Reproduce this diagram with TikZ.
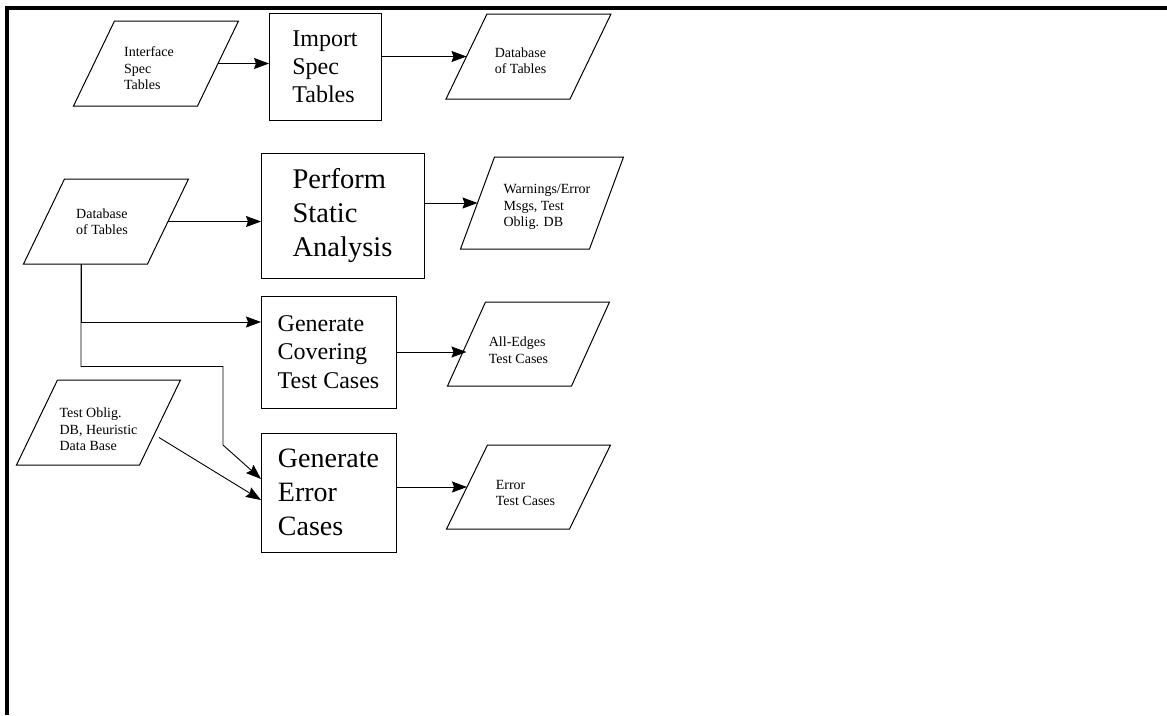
\documentclass[tikz,border=0pt]{standalone}
\usepackage{fontspec}
\setmainfont{Liberation Serif}
\usetikzlibrary{arrows.meta}
\tikzset{
  paraframe/.style={rectangle, draw=none, inner sep=0pt, outer sep=0pt},
  shapeline/.style={line width=1pt, line join=miter},
  paratext/.style={inner sep=0pt, align=left, font=\fontsize{14}{16.5}\selectfont},
  procbox/.style={rectangle, draw, line width=1pt, inner sep=0pt, outer sep=0pt, align=left},
  arr/.style={line width=0.9pt, -{Stealth[length=15pt,width=11pt,inset=2pt]}},
  frame/.style={line width=4pt}
}
% name, cx, cy, bottom width, height, slant offset, text dx, text dy, text
\newcommand{\dataio}[9]{%
  \node[paraframe, minimum width=#4pt, minimum height=#5pt] (#1) at (#2,#3) {};
  \draw[shapeline] ([xshift={-#6pt/2}]#1.south west) -- ([xshift={#6pt/2}]#1.north west)
     -- ([xshift={#6pt/2}]#1.north east) -- ([xshift={-#6pt/2}]#1.south east) -- cycle;
  \node[paratext] (#1-text) at ([shift={(#7,#8)}]#1.center) {#9};
}
\begin{document}
\begin{tikzpicture}[x=1pt,y=-1pt]
\useasboundingbox (0,0) rectangle (1167,715);
\draw[frame] (7,715) -- (7,8) -- (1167,8);

% processes
\node[procbox, minimum width=112pt, minimum height=107pt, font=\fontsize{24}{28}\selectfont] (import) at (325,66.5) {Import\\Spec\\Tables};
\node[procbox, minimum width=163pt, minimum height=125pt, font=\fontsize{28.5}{34}\selectfont] (perform) at (342.5,215.5) {Perform\\Static\\Analysis};
\node[procbox, minimum width=135pt, minimum height=112pt, font=\fontsize{24}{28.5}\selectfont] (cover) at (328.5,352) {Generate\\Covering\\Test Cases};
\node[procbox, minimum width=135pt, minimum height=119pt, font=\fontsize{28}{34}\selectfont] (err) at (328.5,492.5) {Generate\\Error\\Cases};

% data
\dataio{iface}{156}{63.5}{124}{85}{41}{-7}{5}{Interface\\Spec\\Tables}
\dataio{db1}{528.5}{56.5}{124}{85}{41}{-8}{4}{Database\\of Tables}
\dataio{db2}{106}{221.5}{124}{85}{41}{-4}{0}{Database\\of Tables}
\dataio{warn}{542}{203}{129}{92}{34}{5}{4}{Warnings/Error\\Msgs, Test\\Oblig. DB}
\dataio{alle}{528.5}{344}{124}{84}{38}{-10}{6}{All-Edges\\Test Cases}
\dataio{testob}{98.5}{422.5}{123}{85}{41}{0}{7}{Test Oblig.\\DB, Heuristic\\Data Base}
\dataio{errtc}{528.5}{487}{123}{84}{41}{-3}{6}{Error\\Test Cases}

% connectors
\draw[arr] (iface.east) -- (iface.east -| import.west);
\draw[arr] (import.east |- db1.center) -- (db1.west);
\draw[arr] (db2.east) -- (db2.east -| perform.west);
\draw[arr] (perform.east |- warn.center) -- (warn.west);
\draw[arr] (cover.east) -- (cover.east -| alle.west);
\draw[arr] (err.east |- errtc.center) -- (errtc.west);

\coordinate (tap) at ([xshift=37pt]db2.south west);
\coordinate (b1) at (223,366.5);
\coordinate (b2) at (223,445);
\draw[arr] (tap) |- ([yshift=30pt]cover.west);
\draw[arr] (tap) |- (b1) -- (b2) -- ([yshift=13.5pt]err.west);
\draw[arr] ([xshift=-1pt,yshift=-15pt]testob.east) -- ([yshift=-7.5pt]err.west);
\end{tikzpicture}
\end{document}
